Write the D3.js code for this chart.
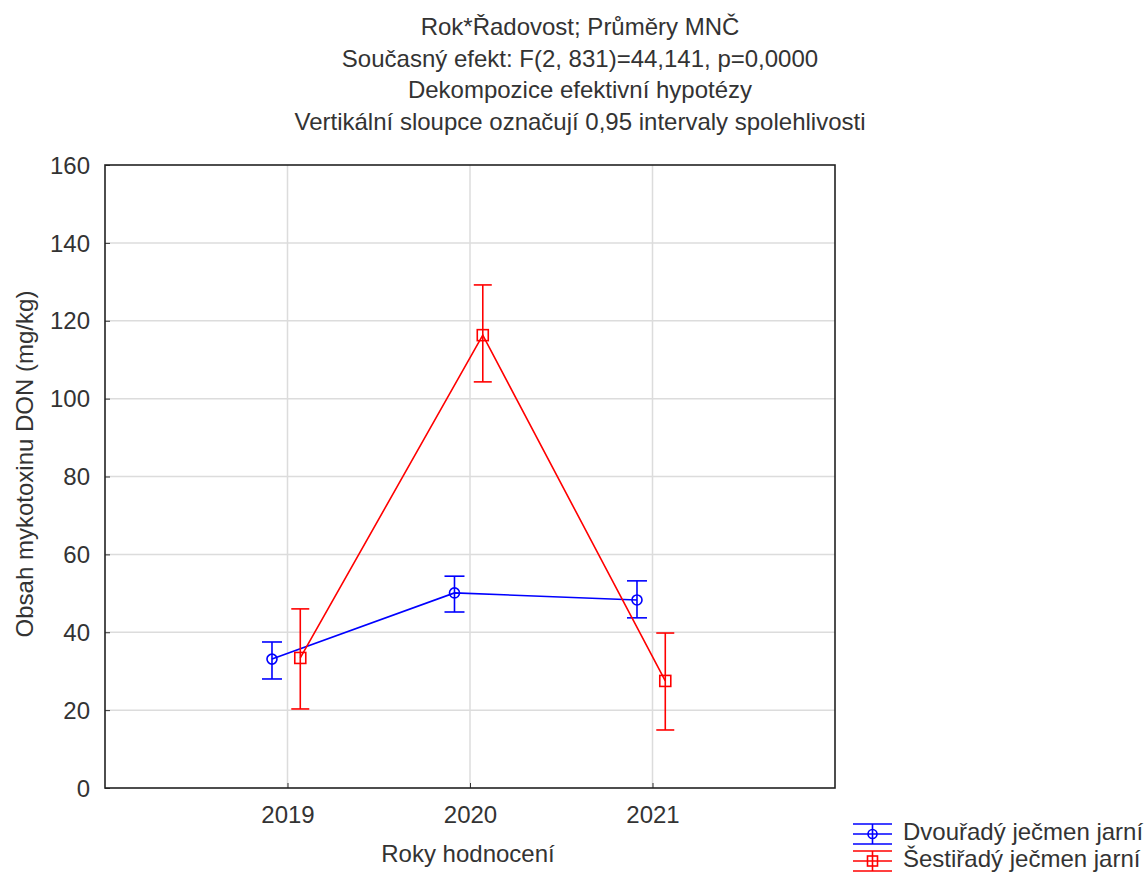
<!DOCTYPE html>
<html><head><meta charset="utf-8">
<script src="https://cdn.jsdelivr.net/npm/d3@7"></script>
<style>body{margin:0;background:#fff;} text{font-family:"Liberation Sans",Arial,sans-serif;fill:#333;}</style>
</head><body><svg id="c" width="1148" height="872"></svg>
<script>
const titleLines = ["Rok*Řadovost; Průměry MNČ","Současný efekt: F(2, 831)=44,141, p=0,0000","Dekompozice efektivní hypotézy","Vertikální sloupce označují 0,95 intervaly spolehlivosti"];
const years = [2019, 2020, 2021];
const seriesNames = ["Dvouřadý ječmen jarní","Šestiřadý ječmen jarní"];
const blueMean = [33.1, 50.1, 48.3];
const blueLow = [28.0, 45.2, 43.7];
const blueHigh = [37.5, 54.4, 53.2];
const redMean = [33.4, 116.3, 27.5];
const redLow = [20.3, 104.3, 14.9];
const redHigh = [46.0, 129.2, 39.8];
const yTicks = [0,20,40,60,80,100,120,140,160];
const yLabel = "Obsah mykotoxinu DON (mg/kg)";
const xLabel = "Roky hodnocení";

const FS = "24px";
const svg = d3.select("#c");
const L=105,R=835,T=165,B=788;
const x = d3.scaleLinear().domain([2018,2022]).range([L,R]);
const y = d3.scaleLinear().domain([0,160]).range([B,T]);

// title
svg.append("g").selectAll("text").data(titleLines).join("text")
  .attr("x",580).attr("y",(d,i)=>35+i*31.5).attr("text-anchor","middle")
  .style("font-size",FS).text(d=>d);

// grid
const g=svg.append("g");
g.selectAll(".gy").data(yTicks.slice(1,-1)).join("line")
  .attr("x1",L).attr("x2",R).attr("y1",d=>y(d)).attr("y2",d=>y(d))
  .attr("stroke","#dcdcdc").attr("stroke-width",1.5);
g.selectAll(".gx").data(years).join("line")
  .attr("x1",d=>x(d)).attr("x2",d=>x(d)).attr("y1",T).attr("y2",B)
  .attr("stroke","#dcdcdc").attr("stroke-width",1.5);

// axes
const ya = d3.axisLeft(y).tickValues(yTicks).tickSize(-5).tickPadding(15).tickFormat(d3.format("d"));
const yg = svg.append("g").attr("transform",`translate(${L},0)`).call(ya);
const xa = d3.axisBottom(x).tickValues(years).tickSize(-5).tickPadding(18).tickFormat(d3.format("d"));
const xg = svg.append("g").attr("transform",`translate(0,${B})`).call(xa);
[yg,xg].forEach(a=>{a.select(".domain").remove();a.selectAll("text").style("font-size",FS).attr("fill","#333");a.selectAll("line").attr("stroke","#333");});
yg.selectAll("text").attr("dy","0.34em");
svg.append("rect").attr("x",L).attr("y",T).attr("width",R-L).attr("height",B-T)
  .attr("fill","none").attr("stroke","#222").attr("stroke-width",1.6);

svg.append("text").attr("transform",`translate(33,464) rotate(-90)`).attr("text-anchor","middle")
  .style("font-size",FS).text(yLabel);
svg.append("text").attr("x",468).attr("y",862).attr("text-anchor","middle").style("font-size",FS).text(xLabel);

// series
const series=[
 {mean:blueMean,low:blueLow,high:blueHigh,color:"#0000ff",off:-0.085,shape:"circle",cap:10},
 {mean:redMean,low:redLow,high:redHigh,color:"#ff0000",off:0.07,shape:"square",cap:9}
];
series.forEach(s=>{
  const pts=years.map((yr,i)=>({x:x(yr+s.off),m:y(s.mean[i]),lo:y(s.low[i]),hi:y(s.high[i])}));
  const sg=svg.append("g").attr("stroke",s.color).attr("fill","none").attr("stroke-width",1.6);
  sg.append("path").attr("d",d3.line().x(d=>d.x).y(d=>d.m)(pts));
  pts.forEach(p=>{
    sg.append("line").attr("x1",p.x).attr("x2",p.x).attr("y1",p.hi).attr("y2",p.lo);
    sg.append("line").attr("x1",p.x-s.cap).attr("x2",p.x+s.cap).attr("y1",p.hi).attr("y2",p.hi);
    sg.append("line").attr("x1",p.x-s.cap).attr("x2",p.x+s.cap).attr("y1",p.lo).attr("y2",p.lo);
    if(s.shape==="circle") sg.append("circle").attr("cx",p.x).attr("cy",p.m).attr("r",5);
    else sg.append("rect").attr("x",p.x-5.5).attr("y",p.m-5.5).attr("width",11).attr("height",11);
  });
});

// legend
seriesNames.forEach((n,i)=>{
  const cy=834+i*27, s=series[i];
  const lg=svg.append("g").attr("stroke",s.color).attr("fill","none").attr("stroke-width",1.6);
  lg.append("line").attr("x1",853).attr("x2",892).attr("y1",cy).attr("y2",cy);
  lg.append("line").attr("x1",853).attr("x2",892).attr("y1",cy-10).attr("y2",cy-10);
  lg.append("line").attr("x1",853).attr("x2",892).attr("y1",cy+10).attr("y2",cy+10);
  lg.append("line").attr("x1",872.5).attr("x2",872.5).attr("y1",cy-10).attr("y2",cy+10);
  if(s.shape==="circle") lg.append("circle").attr("cx",872.5).attr("cy",cy).attr("r",4.5);
  else lg.append("rect").attr("x",867.5).attr("y",cy-5).attr("width",10).attr("height",10);
  svg.append("text").attr("x",903).attr("y",cy+6).style("font-size",FS).text(n);
});
</script></body></html>
